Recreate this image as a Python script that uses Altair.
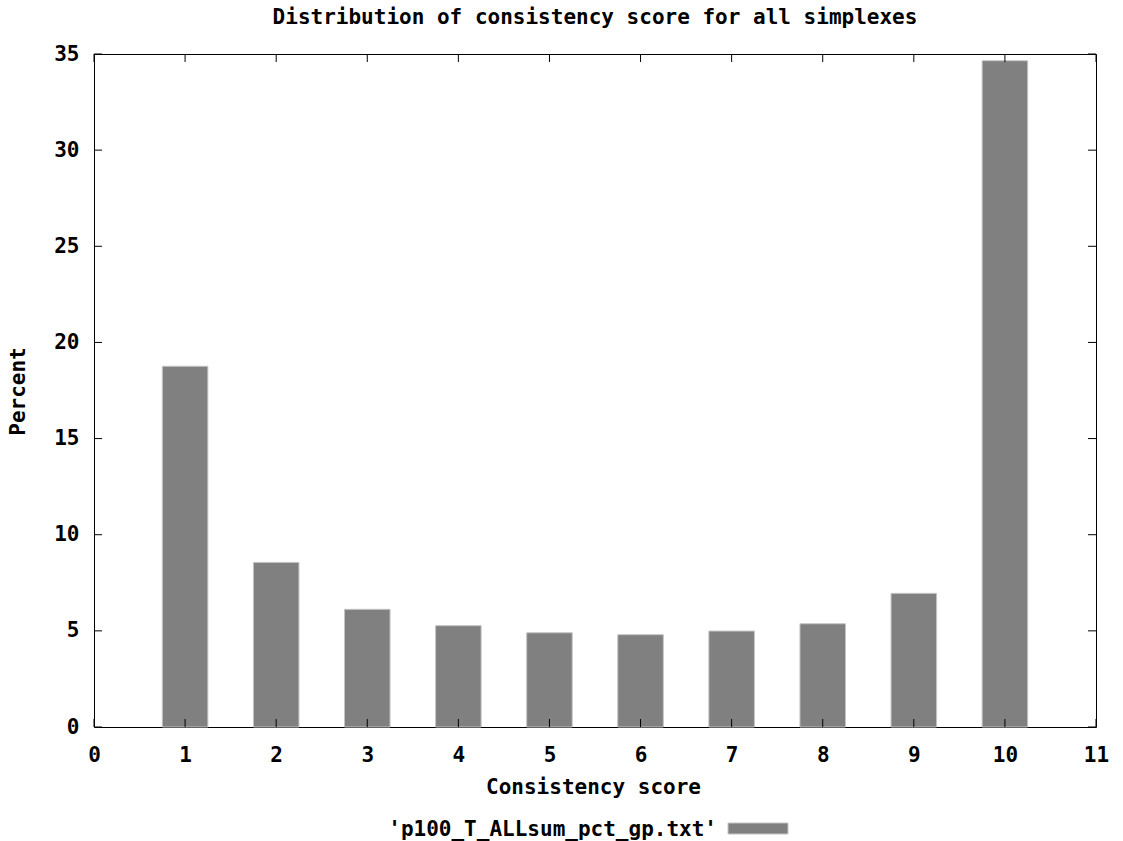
import altair as alt
import pandas as pd

# ---- data ----
scores = [1, 2, 3, 4, 5, 6, 7, 8, 9, 10]
percents = [18.76, 8.56, 6.12, 5.27, 4.90, 4.80, 4.99, 5.37, 6.95, 34.65]
x_ticks = [0, 1, 2, 3, 4, 5, 6, 7, 8, 9, 10, 11]
y_ticks = [0, 5, 10, 15, 20, 25, 30, 35]
legend_label = "'p100_T_ALLsum_pct_gp.txt'"
title_text = "Distribution of consistency score for all simplexes"

W, H = 1002, 673
FONT = "DejaVu Sans Mono"
FS = 21

bars_df = pd.DataFrame({"score": scores, "pct": percents})
xt_df = pd.DataFrame({"t": x_ticks})
yt_df = pd.DataFrame({"t": y_ticks})
leg_df = pd.DataFrame({"label": [legend_label]})

xscale = alt.Scale(domain=[0, 11], nice=False, zero=False)
yscale = alt.Scale(domain=[0, 35], nice=False)

bars = alt.Chart(bars_df).transform_calculate(
    lo="datum.score - 0.25", hi="datum.score + 0.25"
).mark_rect(fill="#808080", stroke="#c4c4c4", strokeWidth=1).encode(
    x=alt.X("lo:Q", scale=xscale,
            axis=alt.Axis(values=x_ticks, format="d", ticks=False, domain=False, grid=False,
                          labelPadding=17, labelFlush=False,
                          title="Consistency score", titleX=499, titleY=60,
                          titleBaseline="middle")),
    x2="hi:Q",
    y=alt.Y("pct:Q", scale=yscale,
            axis=alt.Axis(values=y_ticks, format="d", ticks=False, domain=False, grid=False,
                          labelPadding=15, labelFlush=False, labelBaseline="middle",
                          title="Percent", titleX=-76, titleY=337,
                          titleAngle=-90, titleBaseline="middle", titleAlign="center")),
    y2=alt.datum(0),
)

tick_len = 8
xt_bottom = alt.Chart(xt_df).mark_rule(color="black", strokeWidth=1).encode(
    x=alt.X("t:Q", scale=xscale), y=alt.value(H), y2=alt.value(H - tick_len))
xt_top = alt.Chart(xt_df).mark_rule(color="black", strokeWidth=1).encode(
    x=alt.X("t:Q", scale=xscale), y=alt.value(0), y2=alt.value(tick_len))
yt_left = alt.Chart(yt_df).mark_rule(color="black", strokeWidth=1).encode(
    y=alt.Y("t:Q", scale=yscale), x=alt.value(0), x2=alt.value(tick_len))
yt_right = alt.Chart(yt_df).mark_rule(color="black", strokeWidth=1).encode(
    y=alt.Y("t:Q", scale=yscale), x=alt.value(W), x2=alt.value(W - tick_len))

leg_text = alt.Chart(leg_df).mark_text(
    font=FONT, fontSize=FS, fontWeight="bold", align="right", baseline="middle",
    color="black").encode(text="label:N", x=alt.value(623), y=alt.value(776))
leg_swatch = alt.Chart(leg_df).mark_rect(fill="#808080", stroke="#c4c4c4", strokeWidth=1).encode(
    x=alt.value(634), x2=alt.value(694), y=alt.value(769), y2=alt.value(780))

chart = alt.layer(bars, xt_bottom, xt_top, yt_left, yt_right, leg_text, leg_swatch).properties(
    width=W, height=H,
    background="white",
    title=alt.TitleParams(title_text, font=FONT, fontSize=FS, fontWeight="bold",
                          color="black", anchor="middle", offset=15),
    autosize=alt.AutoSizeParams(type="none"),
    padding={"left": 94, "top": 54, "right": 27, "bottom": 114},
).configure_view(stroke="black", strokeWidth=1).configure_axis(
    labelFont=FONT, labelFontSize=FS, labelFontWeight="bold", labelColor="black",
    titleFont=FONT, titleFontSize=FS, titleFontWeight="bold", titleColor="black",
)

chart.save("out.html", embed_options={"renderer": "svg", "actions": False})
